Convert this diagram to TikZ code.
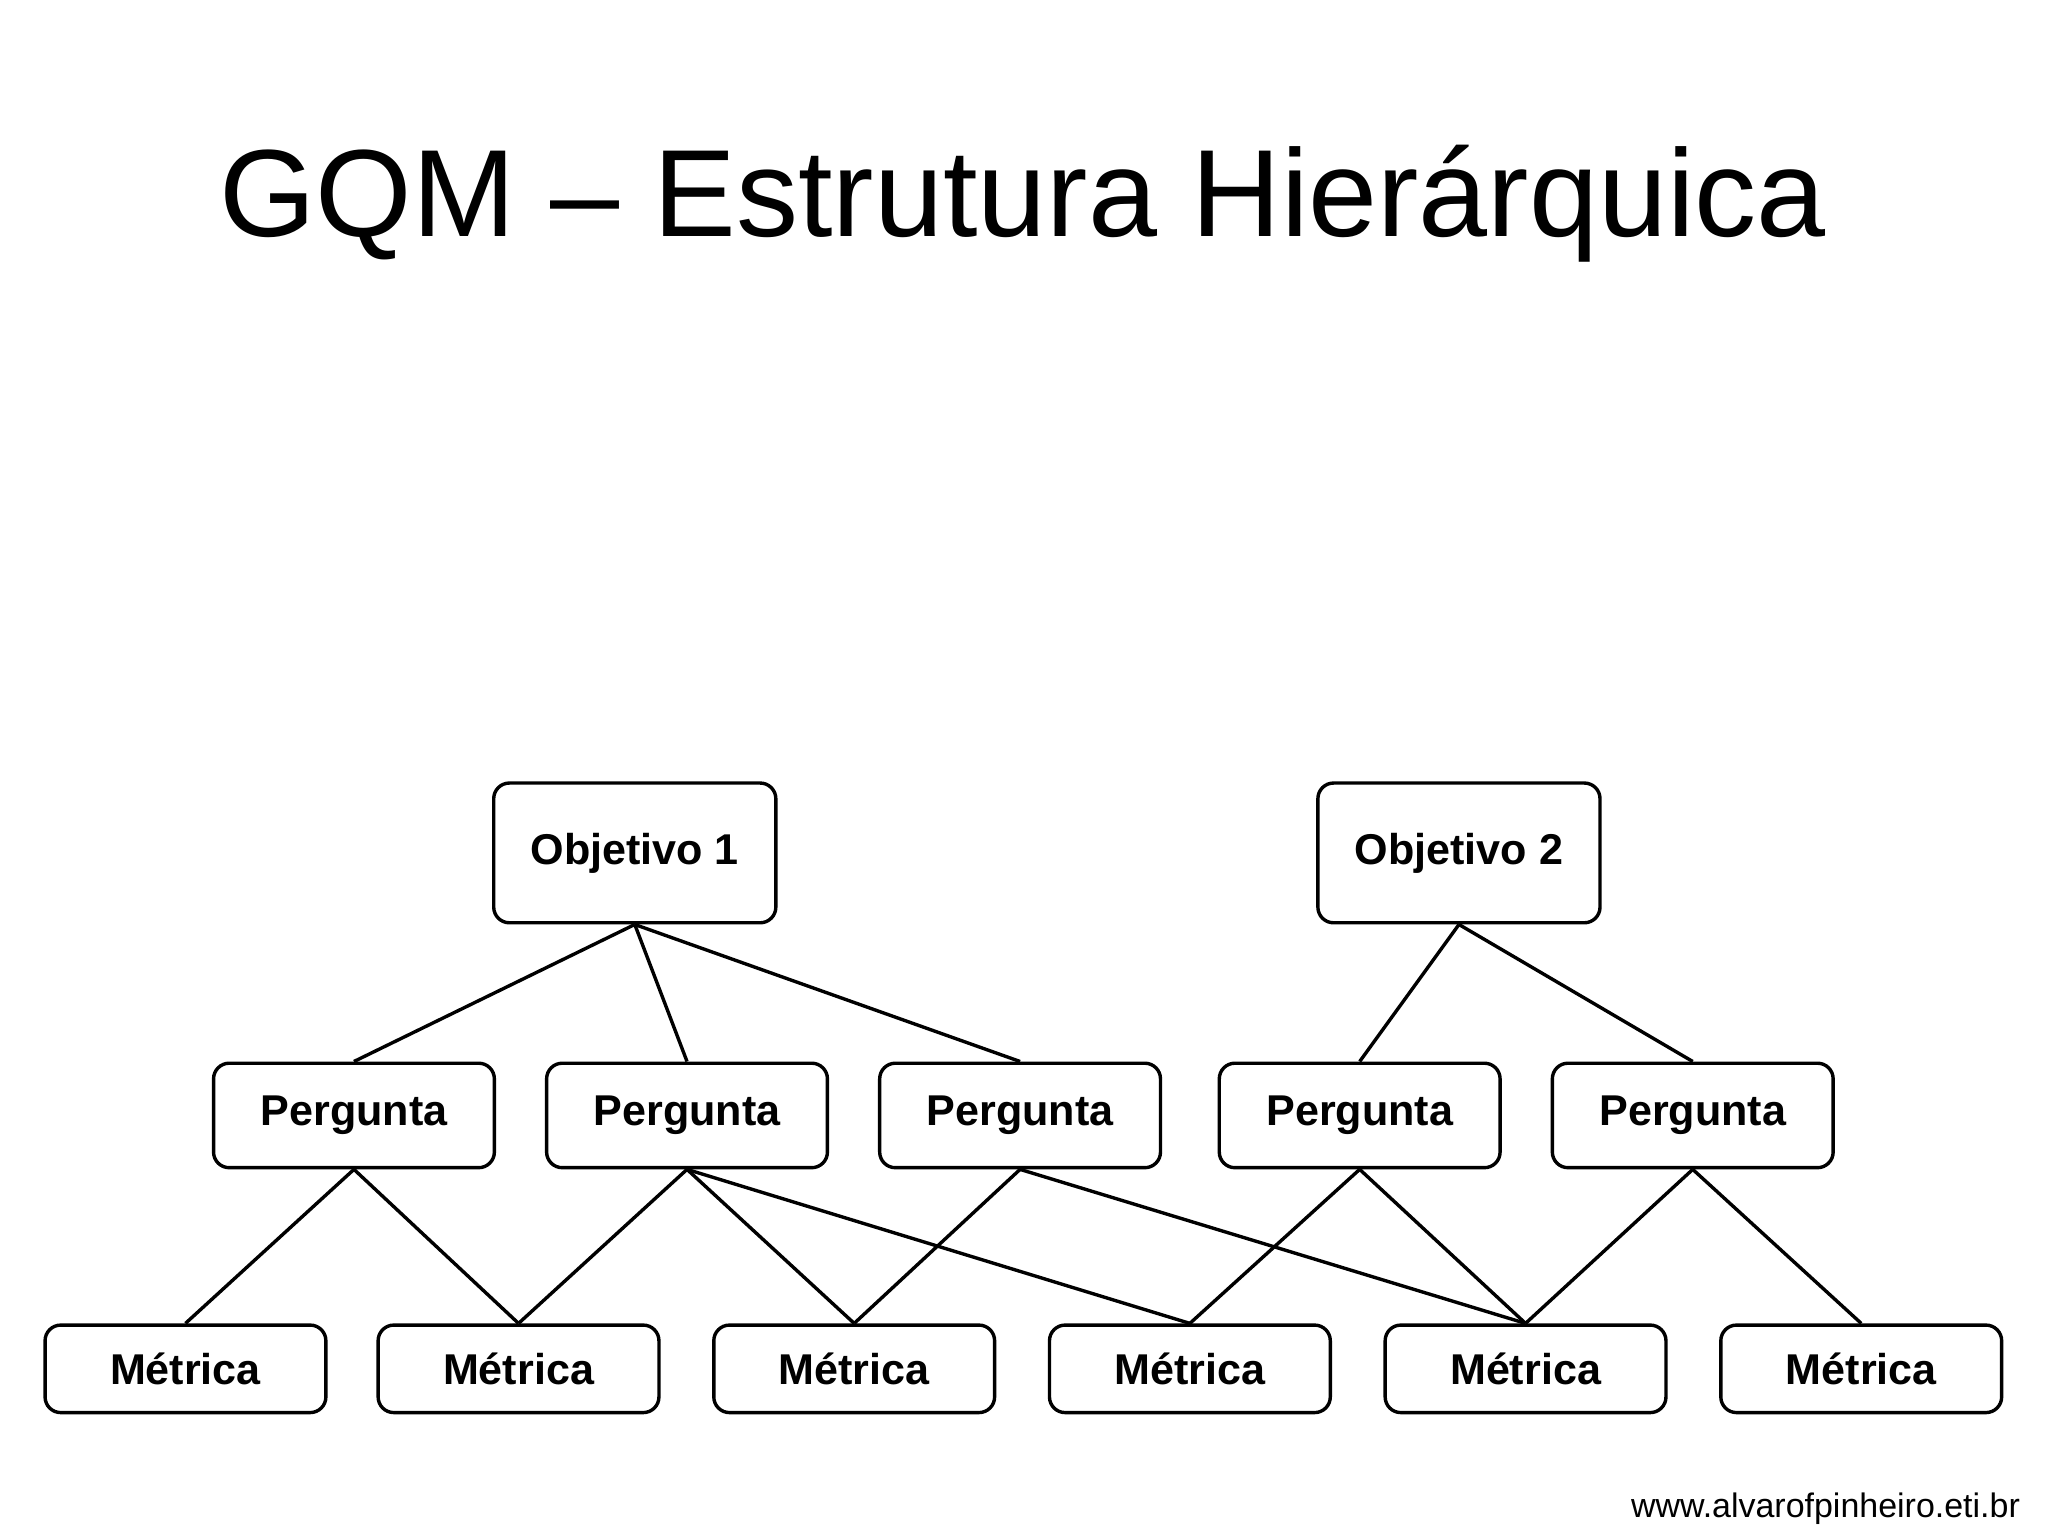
\documentclass[tikz,border=0pt]{standalone}
\usepackage{fontspec}
\setmainfont{Liberation Sans}
\begin{document}
\begin{tikzpicture}[x=1pt,y=-1pt,
  box/.style={draw,rounded corners=12pt,line width=2.6pt,font=\fontsize{33}{40}\selectfont\bfseries,align=center,inner sep=0pt},
  obj/.style={box,minimum width=216pt,minimum height=107pt},
  perg/.style={box,minimum width=215pt,minimum height=80pt},
  met/.style={box,minimum width=215pt,minimum height=67pt},
  edge/.style={line width=2.6pt}]
\useasboundingbox (0,0) rectangle (1568,1176);
\node[anchor=base,font=\fontsize{95}{105}\selectfont] (title) at (783,181) {GQM – Estrutura Hierárquica};
\node[obj] (o1) at (486,653) {Objetivo 1};
\node[obj] (o2) at (1117,653) {Objetivo 2};
\foreach \i/\x in {1/271,2/526,3/781,4/1041,5/1296}
  \node[perg] (p\i) at (\x,854) {Pergunta};
\foreach \i/\x in {1/142,2/397,3/654,4/911,5/1168,6/1425}
  \node[met] (m\i) at (\x,1048) {Métrica};
\foreach \a/\b in {o1/p1,o1/p2,o1/p3,o2/p4,o2/p5,p1/m1,p1/m2,p2/m2,p2/m3,p2/m4,p3/m3,p3/m5,p4/m4,p4/m5,p5/m5,p5/m6}
  \draw[edge] (\a.south) -- (\b.north);
\node[anchor=base east,font=\fontsize{26}{30}\selectfont] (url) at (1550,1162) {www.alvarofpinheiro.eti.br};
\end{tikzpicture}
\end{document}
